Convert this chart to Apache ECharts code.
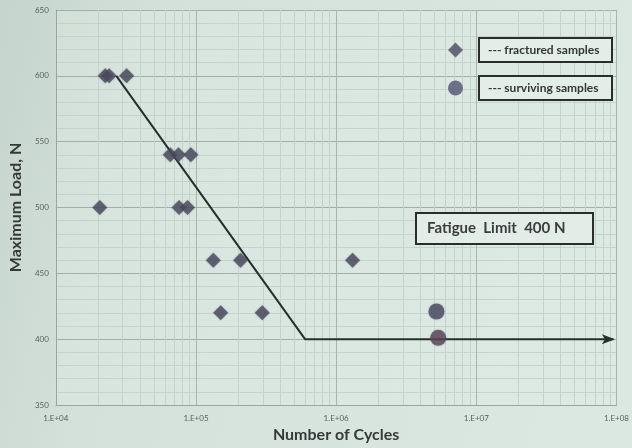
<!DOCTYPE html>
<html>
<head>
<meta charset="utf-8">
<script src="https://cdn.jsdelivr.net/npm/echarts@6/dist/echarts.min.js"></script>
<style>
html,body{margin:0;padding:0;}
#c{width:632px;height:448px;}
</style>
</head>
<body>
<div id="c"></div>
<script>
// ---- data ----
var fracturedCycles = [22500, 24000, 32000, 65500, 75000, 92000, 20600, 75700, 87000, 133000, 208000, 1310000, 150000, 297000];
var fracturedLoads  = [600, 600, 600, 540, 540, 540, 500, 500, 500, 460, 460, 460, 420, 420];
var survivingCycles = [5200000, 5350000];
var survivingLoads  = [421, 401];
var snCurveCycles = [27000, 600000, 95000000];
var snCurveLoads  = [600, 400, 400];
var xTickDecades = [1e4, 1e5, 1e6, 1e7, 1e8];
var minorMultipliers = [2, 3, 4, 5, 6, 7, 8, 9];
var yTicks = [350, 400, 450, 500, 550, 600, 650];
var legendNames = ['--- fractured samples', '--- surviving samples'];
var annotationText = 'Fatigue  Limit  400 N';

function pairs(xs, ys) { return xs.map(function (x, i) { return [x, ys[i]]; }); }

var minorLines = [];
xTickDecades.slice(0, -1).forEach(function (d) {
  minorMultipliers.forEach(function (m) { minorLines.push({ xAxis: d * m }); });
});

var chart = echarts.init(document.getElementById('c'), null, { renderer: 'canvas' });
var FONT = 'Lato';
var markerColor = '#4a4a5c';

var option = {
  animation: false,
  backgroundColor: {
    type: 'linear', x: 0, y: 0, x2: 1, y2: 0.3,
    colorStops: [
      { offset: 0, color: '#c5d4cc' },
      { offset: 0.25, color: '#d3e1da' },
      { offset: 1, color: '#dbe8e2' }
    ]
  },
  grid: {
    left: 54, right: 13, top: 10, bottom: 41,
    show: true, backgroundColor: 'rgba(225,237,231,0.35)', borderWidth: 0
  },
  xAxis: {
    type: 'log', logBase: 10, min: xTickDecades[0], max: xTickDecades[xTickDecades.length - 1],
    name: 'Number of Cycles', nameLocation: 'middle', nameGap: 22,
    nameTextStyle: { fontFamily: FONT, fontWeight: 'bold', fontSize: 16, color: '#353a38' },
    axisLine: { show: true, lineStyle: { color: '#9aa5a0', width: 1 } },
    axisTick: { show: false },
    axisLabel: {
      fontFamily: FONT, fontSize: 8, color: '#5a605d', margin: 9,
      formatter: function (v) {
        var e = Math.round(Math.log10(v));
        return '1.E+' + (e < 10 ? '0' + e : e);
      }
    },
    splitLine: { show: true, lineStyle: { color: '#a9b4af', width: 1 } },
    minorTick: { show: false },
    minorSplitLine: { show: false }
  },
  yAxis: {
    type: 'value', min: yTicks[0], max: yTicks[yTicks.length - 1], interval: 50,
    name: 'Maximum Load, N', nameLocation: 'middle', nameGap: 30,
    nameTextStyle: { fontFamily: FONT, fontWeight: 'bold', fontSize: 16, color: '#353a38' },
    axisLine: { show: true, lineStyle: { color: '#9aa5a0', width: 1 } },
    axisTick: { show: false },
    axisLabel: { fontFamily: FONT, fontSize: 8, color: '#5a605d', margin: 7 },
    splitLine: { show: true, lineStyle: { color: '#a3aea9', width: 1 } },
    minorTick: { show: false, splitNumber: 5 },
    minorSplitLine: { show: true, lineStyle: { color: '#c6d2cc', width: 1 } }
  },
  legend: {
    orient: 'vertical', left: 443, top: 32, itemWidth: 15, itemHeight: 15, itemGap: 12,
    selectedMode: false,
    data: [
      { name: legendNames[0], icon: 'diamond' },
      { name: legendNames[1], icon: 'circle' }
    ],
    formatter: function (n) { return '{s|}{b|' + n + '}'; },
    textStyle: {
      rich: {
        s: { width: 12 },
        b: {
          fontFamily: FONT, fontSize: 12, fontWeight: 'bold', color: '#333635',
          borderColor: '#2a2d2c', borderWidth: 2, backgroundColor: '#e4eee9',
          padding: [5, 6, 5, 8], width: 117
        }
      }
    }
  },
  series: [
    {
      type: 'line', name: 'minor', data: [], silent: true, z: 0,
      markLine: {
        silent: true, symbol: 'none', label: { show: false }, z: 0,
        lineStyle: { color: '#c6d2cc', width: 1, type: 'solid' },
        data: minorLines
      }
    },
    {
      type: 'line', name: 'S-N curve', data: pairs(snCurveCycles, snCurveLoads).map(function (p, i, arr) {
        if (i === arr.length - 1) {
          return { value: p, symbol: 'path://M0,0 L12,5 L0,10 L3,5 Z', symbolSize: [13, 10], symbolOffset: [-5, 0], itemStyle: { color: '#26302b' } };
        }
        return { value: p };
      }),
      symbol: 'none', showSymbol: true, z: 3,
      lineStyle: { color: '#26302b', width: 2 }
    },
    {
      type: 'scatter', name: legendNames[0], data: pairs(fracturedCycles, fracturedLoads),
      symbol: 'diamond', symbolSize: 15, z: 4,
      itemStyle: { color: markerColor, shadowColor: 'rgba(40,40,60,0.35)', shadowBlur: 2 }
    },
    {
      type: 'scatter', name: legendNames[1], data: pairs(survivingCycles, survivingLoads),
      symbol: 'circle', symbolSize: 16, z: 4,
      itemStyle: {
        color: function (p) { return p.dataIndex === 1 ? '#5a4658' : '#4b4a62'; },
        shadowColor: 'rgba(40,40,60,0.35)', shadowBlur: 2
      }
    }
  ],
  graphic: [
    {
      type: 'text', left: 415, top: 212, z: 10,
      style: {
        text: annotationText, fontFamily: FONT, fontSize: 15, fontWeight: 'bold', fill: '#3a3d3c',
        backgroundColor: '#e3ede8', borderColor: '#2a2d2c', borderWidth: 2,
        padding: [7, 8, 7, 10], width: 157
      }
    }
  ]
};
chart.setOption(option);
</script>
</body>
</html>
